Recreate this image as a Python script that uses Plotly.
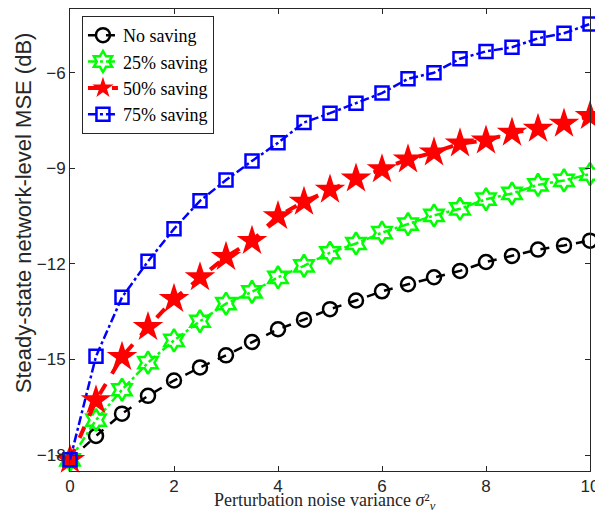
import plotly.graph_objects as go

x_vals = [0, 0.5, 1, 1.5, 2, 2.5, 3, 3.5, 4, 4.5, 5, 5.5, 6, 6.5, 7, 7.5, 8, 8.5, 9, 9.5, 10]

no_saving = [-18.15, -17.4, -16.7, -16.14, -15.66, -15.25, -14.87, -14.45, -14.05, -13.75, -13.42,
             -13.15, -12.86, -12.64, -12.42, -12.22, -11.94, -11.75, -11.55, -11.42, -11.27]
saving_25 = [-18.15, -16.9, -15.95, -15.1, -14.4, -13.8, -13.25, -12.88, -12.42, -12.06, -11.65,
             -11.36, -11.02, -10.75, -10.48, -10.27, -9.97, -9.79, -9.52, -9.38, -9.18]
saving_50 = [-18.15, -16.28, -14.92, -13.98, -13.1, -12.42, -11.78, -11.28, -10.5, -10.05, -9.67,
             -9.32, -9.03, -8.72, -8.5, -8.22, -8.13, -7.88, -7.76, -7.6, -7.36]
saving_75 = [-18.15, -14.9, -13.05, -11.92, -10.9, -10.02, -9.37, -8.77, -8.2, -7.56, -7.27,
             -6.96, -6.64, -6.19, -6.0, -5.56, -5.33, -5.2, -4.92, -4.76, -4.47]

series_names = ["No saving", "25% saving", "50% saving", "75% saving"]
x_ticks = [0, 2, 4, 6, 8, 10]
y_ticks = [-18, -15, -12, -9, -6]
x_title = "Perturbation noise variance <i>σ</i>²<sub><i>ν</i></sub>"
y_title = "Steady-state network-level MSE (dB)"

fig = go.Figure()

fig.add_trace(go.Scatter(
    x=x_vals, y=no_saving, name=series_names[0], mode="lines+markers",
    line=dict(color="black", width=2.5, dash="dash"),
    marker=dict(symbol="circle-open", size=14, color="black", line=dict(width=2.5)),
    cliponaxis=False))
fig.add_trace(go.Scatter(
    x=x_vals, y=saving_25, name=series_names[1], mode="lines+markers",
    line=dict(color="#00FF00", width=2.5, dash="dashdot"),
    marker=dict(symbol="hexagram-open", size=17, color="#00FF00", line=dict(width=2.5)),
    cliponaxis=False))
fig.add_trace(go.Scatter(
    x=x_vals, y=saving_50, name=series_names[2], mode="lines+markers",
    line=dict(color="#FF0000", width=4, dash="dash"),
    marker=dict(symbol="star", size=23, color="#FF0000", line=dict(width=0)),
    cliponaxis=False))
fig.add_trace(go.Scatter(
    x=x_vals, y=saving_75, name=series_names[3], mode="lines+markers",
    line=dict(color="#0000FF", width=2.5, dash="dashdot"),
    marker=dict(symbol="square-open", size=13, color="#0000FF", line=dict(width=2.5)),
    cliponaxis=False))

axis_common = dict(
    showline=True, linecolor="#262626", linewidth=1, mirror="ticks",
    ticks="inside", ticklen=5, tickcolor="#262626", showgrid=False, zeroline=False,
    automargin=False,
    tickfont=dict(family="Liberation Sans, Arial, sans-serif", size=17, color="#262626"),
)

# page body has an 8px margin, so the figure is sized/offset to compensate
fig.update_layout(
    width=595, height=504,
    margin=dict(l=62, r=13, t=1, b=41),
    paper_bgcolor="white", plot_bgcolor="white",
    xaxis=dict(range=[0, 10], tickvals=x_ticks, **axis_common),
    yaxis=dict(range=[-18.5, -4], tickvals=y_ticks, **axis_common),
    legend=dict(x=0.023, y=0.985, xanchor="left", yanchor="top",
                bgcolor="white", bordercolor="#262626", borderwidth=1,
                font=dict(family="Liberation Serif, Times New Roman, serif", size=18, color="black"),
                tracegroupgap=0),
    showlegend=True,
    annotations=[
        dict(text=x_title, xref="paper", yref="paper", x=0.49, y=-0.066,
             xanchor="center", yanchor="middle", showarrow=False,
             font=dict(family="Liberation Serif, Times New Roman, serif", size=18, color="#262626")),
        dict(text=y_title, xref="paper", yref="paper", x=-0.0904, y=0.56,
             xanchor="center", yanchor="middle", showarrow=False, textangle=-90,
             font=dict(family="Liberation Sans, Arial, sans-serif", size=22, color="#262626")),
    ],
)

fig.write_html("out.html")
